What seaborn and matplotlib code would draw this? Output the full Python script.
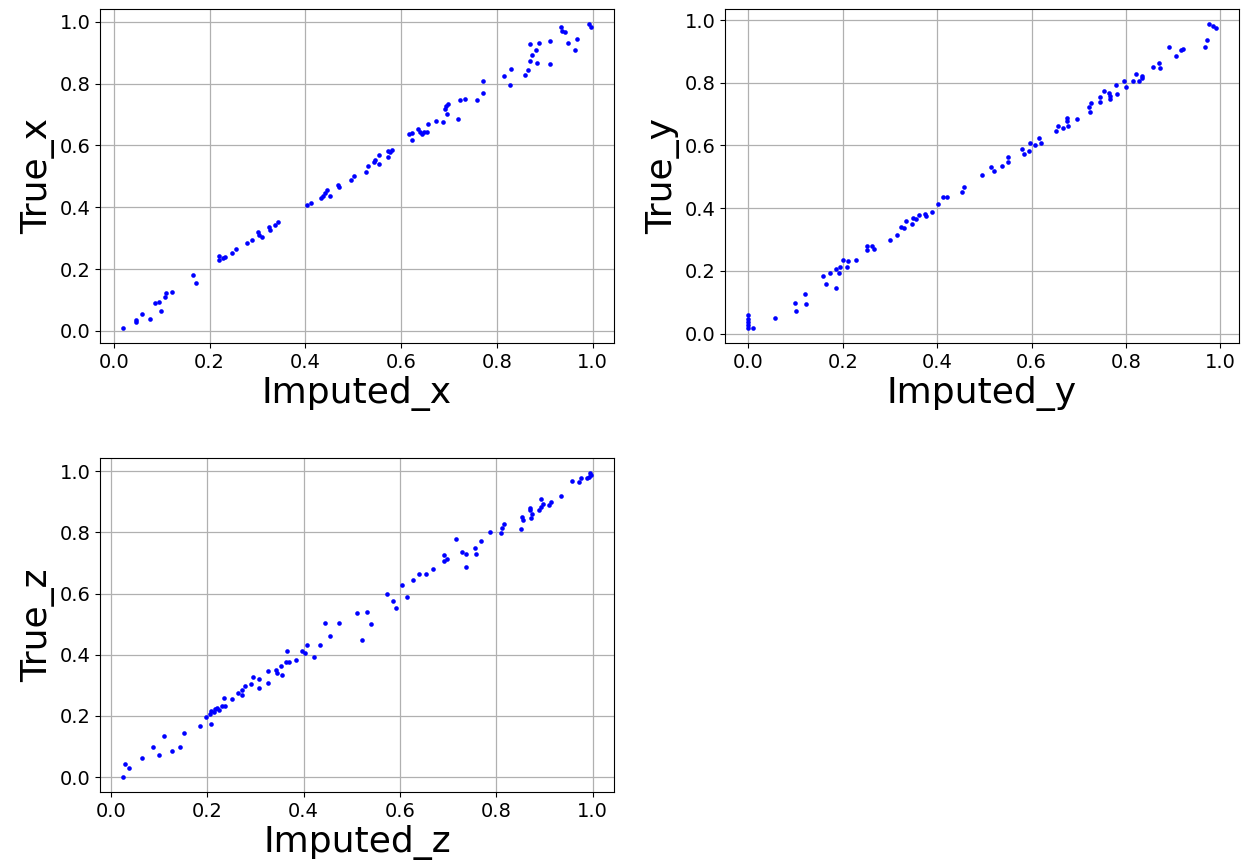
import matplotlib
matplotlib.use("Agg")
import matplotlib.pyplot as plt
import seaborn as sns
import pandas as pd

# Imputed vs. true coordinates for each axis
imputed_x = [0.020, 0.046, 0.047, 0.060, 0.075, 0.087, 0.095, 0.098, 0.108, 0.109,
             0.121, 0.165, 0.172, 0.219, 0.220, 0.229, 0.233, 0.248, 0.255, 0.279,
             0.289, 0.301, 0.303, 0.310, 0.324, 0.327, 0.336, 0.342, 0.404, 0.413,
             0.432, 0.436, 0.441, 0.446, 0.452, 0.469, 0.471, 0.496, 0.502, 0.527,
             0.532, 0.544, 0.546, 0.554, 0.555, 0.573, 0.573, 0.577, 0.581, 0.616,
             0.622, 0.622, 0.636, 0.640, 0.644, 0.649, 0.655, 0.657, 0.673, 0.687,
             0.692, 0.694, 0.699, 0.697, 0.719, 0.724, 0.733, 0.759, 0.771, 0.772,
             0.815, 0.828, 0.829, 0.858, 0.865, 0.869, 0.870, 0.873, 0.881, 0.885,
             0.888, 0.911, 0.911, 0.934, 0.937, 0.943, 0.949, 0.963, 0.968, 0.993,
             0.996]
true_x = [0.010, 0.029, 0.037, 0.054, 0.038, 0.089, 0.093, 0.065, 0.111, 0.123,
          0.127, 0.182, 0.154, 0.231, 0.241, 0.236, 0.238, 0.251, 0.266, 0.283,
          0.293, 0.321, 0.311, 0.305, 0.337, 0.325, 0.343, 0.351, 0.407, 0.414,
          0.430, 0.435, 0.445, 0.456, 0.438, 0.473, 0.465, 0.488, 0.501, 0.514,
          0.534, 0.548, 0.552, 0.569, 0.541, 0.562, 0.582, 0.580, 0.586, 0.638,
          0.639, 0.617, 0.653, 0.645, 0.637, 0.644, 0.644, 0.670, 0.678, 0.675,
          0.718, 0.729, 0.733, 0.701, 0.684, 0.747, 0.751, 0.748, 0.808, 0.770,
          0.823, 0.794, 0.848, 0.828, 0.845, 0.927, 0.873, 0.892, 0.909, 0.866,
          0.930, 0.939, 0.863, 0.984, 0.971, 0.966, 0.932, 0.907, 0.945, 0.992,
          0.983]

imputed_y = [0.000, 0.000, 0.000, 0.000, 0.000, 0.010, 0.057, 0.098, 0.101, 0.120,
             0.122, 0.159, 0.164, 0.173, 0.185, 0.185, 0.192, 0.195, 0.201, 0.209,
             0.212, 0.227, 0.251, 0.251, 0.262, 0.266, 0.299, 0.314, 0.323, 0.329,
             0.335, 0.346, 0.348, 0.355, 0.362, 0.374, 0.376, 0.388, 0.401, 0.413,
             0.421, 0.452, 0.457, 0.496, 0.513, 0.520, 0.537, 0.549, 0.549, 0.580,
             0.583, 0.595, 0.596, 0.607, 0.616, 0.621, 0.651, 0.655, 0.667, 0.675,
             0.676, 0.677, 0.696, 0.721, 0.724, 0.726, 0.744, 0.745, 0.753, 0.765,
             0.767, 0.767, 0.779, 0.780, 0.796, 0.801, 0.815, 0.821, 0.828, 0.833,
             0.835, 0.857, 0.871, 0.873, 0.892, 0.905, 0.916, 0.920, 0.967, 0.971,
             0.976, 0.985, 0.990]
true_y = [0.058, 0.045, 0.036, 0.026, 0.018, 0.018, 0.048, 0.097, 0.073, 0.125,
          0.095, 0.182, 0.159, 0.194, 0.205, 0.146, 0.194, 0.212, 0.235, 0.212,
          0.231, 0.233, 0.278, 0.268, 0.280, 0.271, 0.298, 0.313, 0.341, 0.338,
          0.358, 0.351, 0.368, 0.364, 0.378, 0.380, 0.374, 0.387, 0.413, 0.437,
          0.437, 0.451, 0.468, 0.505, 0.530, 0.518, 0.534, 0.547, 0.562, 0.588,
          0.573, 0.582, 0.608, 0.603, 0.623, 0.609, 0.646, 0.663, 0.655, 0.689,
          0.678, 0.662, 0.683, 0.723, 0.707, 0.736, 0.738, 0.755, 0.774, 0.769,
          0.757, 0.748, 0.793, 0.765, 0.806, 0.787, 0.806, 0.828, 0.807, 0.821,
          0.814, 0.850, 0.862, 0.847, 0.915, 0.884, 0.906, 0.909, 0.915, 0.935,
          0.987, 0.981, 0.975]

imputed_z = [0.026, 0.029, 0.037, 0.064, 0.088, 0.099, 0.110, 0.127, 0.143, 0.152,
             0.185, 0.198, 0.205, 0.207, 0.208, 0.215, 0.217, 0.221, 0.224, 0.231,
             0.235, 0.237, 0.251, 0.264, 0.272, 0.273, 0.279, 0.290, 0.296, 0.307,
             0.307, 0.326, 0.327, 0.343, 0.344, 0.353, 0.355, 0.363, 0.366, 0.369,
             0.384, 0.396, 0.403, 0.407, 0.422, 0.435, 0.445, 0.456, 0.473, 0.511,
             0.522, 0.531, 0.541, 0.573, 0.586, 0.591, 0.605, 0.614, 0.628, 0.640,
             0.654, 0.669, 0.691, 0.691, 0.698, 0.717, 0.728, 0.737, 0.738, 0.755,
             0.758, 0.769, 0.787, 0.810, 0.812, 0.817, 0.852, 0.854, 0.856, 0.870,
             0.871, 0.872, 0.874, 0.888, 0.892, 0.893, 0.897, 0.909, 0.913, 0.934,
             0.957, 0.971, 0.975, 0.989, 0.993, 0.994, 0.996]
true_z = [0.001, 0.043, 0.031, 0.061, 0.098, 0.073, 0.135, 0.084, 0.098, 0.144,
          0.167, 0.198, 0.207, 0.217, 0.174, 0.214, 0.222, 0.225, 0.219, 0.231,
          0.258, 0.232, 0.257, 0.276, 0.285, 0.268, 0.298, 0.303, 0.329, 0.322,
          0.293, 0.346, 0.309, 0.349, 0.341, 0.362, 0.333, 0.376, 0.412, 0.378,
          0.383, 0.412, 0.406, 0.431, 0.393, 0.432, 0.504, 0.460, 0.503, 0.536,
          0.449, 0.540, 0.500, 0.599, 0.575, 0.553, 0.627, 0.588, 0.645, 0.664,
          0.663, 0.680, 0.726, 0.708, 0.713, 0.778, 0.736, 0.687, 0.730, 0.749,
          0.729, 0.771, 0.803, 0.799, 0.815, 0.829, 0.812, 0.852, 0.841, 0.872,
          0.881, 0.846, 0.860, 0.874, 0.909, 0.884, 0.894, 0.891, 0.901, 0.918,
          0.968, 0.966, 0.978, 0.979, 0.983, 0.994, 0.988]

panels = [
    ("Imputed_x", "True_x", imputed_x, true_x),
    ("Imputed_y", "True_y", imputed_y, true_y),
    ("Imputed_z", "True_z", imputed_z, true_z),
]

plt.rcParams["font.family"] = ["DejaVu Sans"]

fig, axes = plt.subplots(2, 2, figsize=(12.45, 8.67), dpi=100)
fig.subplots_adjust(left=0.0803, right=0.9952, top=0.9896, bottom=0.0865,
                    wspace=0.216, hspace=0.344)
fig.delaxes(axes[1, 1])

for ax, (xlab, ylab, xs, ys) in zip([axes[0, 0], axes[0, 1], axes[1, 0]], panels):
    df = pd.DataFrame({xlab: xs, ylab: ys})
    sns.scatterplot(data=df, x=xlab, y=ylab, ax=ax, color="blue",
                    s=11, linewidth=0)
    ax.grid(True, color="#b0b0b0", linewidth=0.9)
    ax.set_axisbelow(True)
    ax.set_xticks([0.0, 0.2, 0.4, 0.6, 0.8, 1.0])
    ax.set_yticks([0.0, 0.2, 0.4, 0.6, 0.8, 1.0])
    ax.tick_params(labelsize=14)
    ax.set_xlabel(xlab, fontsize=26, labelpad=3)
    ax.set_ylabel(ylab, fontsize=26, labelpad=3)

fig.savefig("out.png", dpi=100)
